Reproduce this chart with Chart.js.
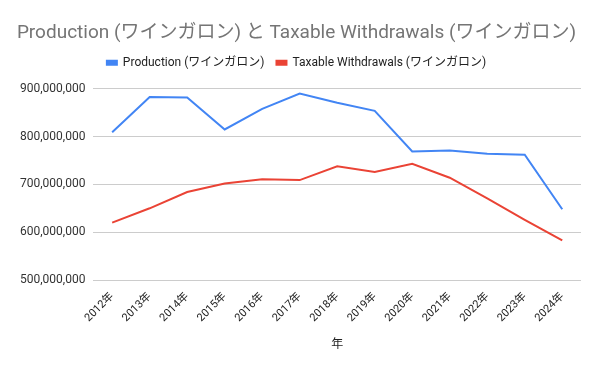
<!DOCTYPE html>
<html><head><meta charset="utf-8">
<script src="https://cdn.jsdelivr.net/npm/chart.js@4"></script>
<style>html,body{margin:0;padding:0;background:#fff}#w{width:600px;height:371px}</style>
</head><body><div id="w"><canvas id="c"></canvas></div>
<script>
const categories = ['2012年','2013年','2014年','2015年','2016年','2017年','2018年','2019年','2020年','2021年','2022年','2023年','2024年'];
const production = [809e6,883e6,882e6,815e6,858e6,890e6,871e6,854e6,769e6,771e6,764e6,762e6,648e6];
const taxableWithdrawals = [620e6,650e6,684e6,702e6,711e6,709e6,738e6,726e6,743e6,714e6,671e6,626e6,583e6];
const seriesNames = ['Production (ワインガロン)','Taxable Withdrawals (ワインガロン)'];
const chartTitle = 'Production (ワインガロン) と Taxable Withdrawals (ワインガロン)';
const xTitle = '年';

const FONT = "Roboto, 'Noto Sans CJK JP', sans-serif";
const legendMargin = {id: 'legendMargin', beforeInit(chart) {
  const fit = chart.legend.fit;
  chart.legend.fit = function () { fit.bind(chart.legend)(); this.height += 10; };
}};
new Chart(document.getElementById('c'), {
  type: 'line',
  data: {
    labels: categories,
    datasets: [
      {label: seriesNames[0], data: production, borderColor: '#4285F4', backgroundColor: '#4285F4', borderWidth: 2, pointRadius: 0, tension: 0},
      {label: seriesNames[1], data: taxableWithdrawals, borderColor: '#EA4335', backgroundColor: '#EA4335', borderWidth: 2, pointRadius: 0, tension: 0}
    ]
  },
  plugins: [legendMargin],
  options: {
    responsive: true, maintainAspectRatio: false, animation: false,
    layout: {padding: {left: 12, right: 19, top: 10, bottom: 15}},
    plugins: {
      title: {display: true, text: chartTitle, color: '#757575', font: {family: FONT, size: 19, weight: 'normal'}, padding: {top: 12, bottom: 0}},
      legend: {labels: {color: '#222', font: {family: FONT, size: 12}, boxWidth: 10, boxHeight: 4, padding: 12}},
      tooltip: {enabled: false}
    },
    scales: {
      x: {
        offset: true,
        grid: {display: false},
        border: {display: false},
        ticks: {color: '#222', font: {family: FONT, size: 11}, maxRotation: 45, minRotation: 45, padding: 2},
        title: {display: true, text: xTitle, color: '#222', font: {family: FONT, size: 12}, padding: {top: 11}}
      },
      y: {
        min: 500e6, max: 900e6,
        grid: {color: '#cccccc', drawTicks: false},
        border: {display: false},
        ticks: {stepSize: 100e6, color: '#333', font: {family: FONT, size: 12}, padding: 8,
          callback: v => v.toLocaleString('en-US')}
      }
    }
  }
});
</script></body></html>
